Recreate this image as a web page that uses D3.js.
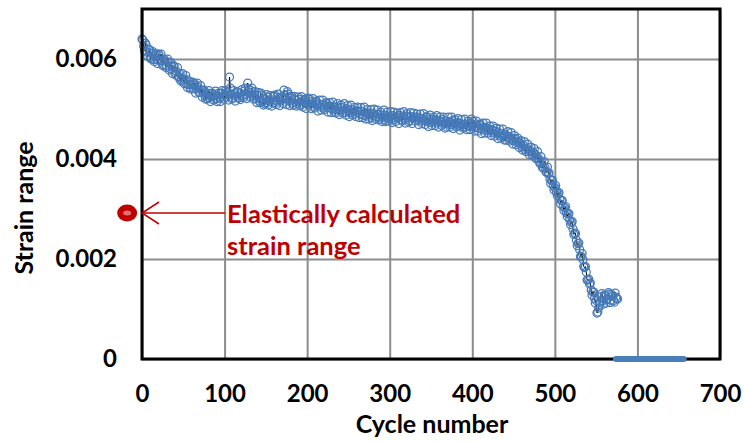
<!DOCTYPE html>
<html>
<head>
<meta charset="utf-8">
<script src="https://cdn.jsdelivr.net/npm/d3@7"></script>
<style>
  body { margin: 0; background: #fff; }
  svg { display: block; }
  .tick text { font-family: Lato, "Open Sans", sans-serif; font-weight: 700; font-size: 24px; fill: #000; }
  .axis-label { font-family: Lato, "Open Sans", sans-serif; font-weight: 700; font-size: 25px; fill: #000; }
  .note { font-family: Lato, "Open Sans", sans-serif; font-weight: 700; font-size: 25.5px; fill: #c00000; }
</style>
</head>
<body>
<svg id="chart"></svg>
<script>
const width = 743;
const height = 442;

// even cycles of the measured points
const cyclesEven = [
  0, 2, 4, 6, 8, 10,
  12, 14, 16, 18, 20, 22, 24, 26, 28,
  30, 32, 34, 36, 38, 40, 42, 44,
  46, 48, 50, 52, 54, 56, 58, 60,
  62, 64, 66, 68, 70, 72, 74, 76,
  78, 80, 82, 84, 86, 88, 90, 92, 94, 96, 98, 100,
  102, 104, 106, 108, 110, 112, 114, 116,
  118, 120, 122, 124, 126, 128, 130,
  132, 134, 136, 138, 140, 142, 144, 146,
  148, 150, 152, 154, 156, 158, 160, 162, 164, 166, 168, 170,
  172, 174, 176, 178, 180, 182, 184,
  186, 188, 190, 192, 194, 196, 198, 200,
  202, 204, 206, 208, 210, 212, 214, 216, 218, 220, 222, 224, 226, 228, 230, 232,
  234, 236, 238, 240, 242, 244, 246, 248, 250, 252, 254, 256, 258, 260, 262,
  264, 266, 268, 270, 272, 274, 276, 278, 280, 282, 284, 286, 288, 290, 292, 294, 296, 298, 300,
  302, 304, 306, 308, 310, 312, 314, 316, 318, 320, 322, 324, 326, 328, 330,
  332, 334, 336, 338, 340, 342, 344, 346, 348, 350, 352, 354, 356, 358, 360, 362, 364, 366,
  368, 370, 372, 374, 376, 378, 380, 382, 384, 386, 388, 390, 392, 394, 396, 398, 400,
  402, 404, 406, 408, 410, 412, 414, 416, 418, 420, 422,
  424, 426, 428, 430, 432, 434, 436, 438,
  440, 442, 444, 446, 448, 450, 452, 454, 456,
  458, 460, 462, 464, 466, 468, 470, 472, 474,
  476, 478, 480, 482, 484, 486, 488, 490,
  492, 494, 496, 498, 500,
  502, 504, 506, 508, 510, 512, 514,
  516, 518, 520, 522, 524, 526, 528,
  530, 532, 534, 536, 538, 540,
  542, 544, 546, 548, 550, 552,
  554, 556, 558, 560, 562, 564, 566, 568, 570, 572, 574, 576
];

const strainEven = [
  0.00640, 0.00626, 0.00632, 0.00614, 0.00619, 0.00603,
  0.00611, 0.00599, 0.00607, 0.00599, 0.00610, 0.00597, 0.00598, 0.00589, 0.00596,
  0.00587, 0.00594, 0.00581, 0.00585, 0.00587, 0.00573, 0.00575, 0.00565,
  0.00570, 0.00558, 0.00561, 0.00553, 0.00559, 0.00549, 0.00543, 0.00549,
  0.00541, 0.00548, 0.00540, 0.00544, 0.00534, 0.00538, 0.00537, 0.00527,
  0.00532, 0.00523, 0.00531, 0.00524, 0.00519, 0.00529, 0.00521, 0.00526, 0.00521, 0.00532, 0.00525, 0.00529,
  0.00524, 0.00533, 0.00564, 0.00530, 0.00522, 0.00531, 0.00526, 0.00534,
  0.00523, 0.00531, 0.00527, 0.00536, 0.00529, 0.00552, 0.00533,
  0.00537, 0.00526, 0.00530, 0.00521, 0.00527, 0.00516, 0.00532, 0.00514,
  0.00521, 0.00513, 0.00524, 0.00516, 0.00519, 0.00512, 0.00526, 0.00517, 0.00514, 0.00522, 0.00516, 0.00520,
  0.00538, 0.00521, 0.00535, 0.00516, 0.00523, 0.00512, 0.00519,
  0.00518, 0.00511, 0.00520, 0.00514, 0.00509, 0.00517, 0.00513, 0.00510,
  0.00508, 0.00515, 0.00510, 0.00505, 0.00513, 0.00507, 0.00511, 0.00504, 0.00509, 0.00502, 0.00507, 0.00511, 0.00503, 0.00506, 0.00500, 0.00504,
  0.00499, 0.00505, 0.00501, 0.00496, 0.00503, 0.00498, 0.00493, 0.00501, 0.00497, 0.00492, 0.00499, 0.00495, 0.00490, 0.00497, 0.00494,
  0.00490, 0.00496, 0.00488, 0.00493, 0.00486, 0.00492, 0.00489, 0.00483, 0.00491, 0.00487, 0.00485, 0.00490, 0.00482, 0.00488, 0.00484, 0.00479, 0.00487, 0.00483, 0.00485,
  0.00481, 0.00487, 0.00479, 0.00485, 0.00482, 0.00488, 0.00478, 0.00484, 0.00480, 0.00486, 0.00483, 0.00477, 0.00485, 0.00481, 0.00483,
  0.00484, 0.00478, 0.00482, 0.00476, 0.00481, 0.00477, 0.00484, 0.00475, 0.00479, 0.00473, 0.00480, 0.00476, 0.00478, 0.00472, 0.00477, 0.00474, 0.00479, 0.00471,
  0.00476, 0.00470, 0.00474, 0.00469, 0.00477, 0.00471, 0.00468, 0.00473, 0.00466, 0.00471, 0.00469, 0.00464, 0.00470, 0.00467, 0.00465, 0.00471, 0.00466,
  0.00469, 0.00463, 0.00466, 0.00461, 0.00468, 0.00460, 0.00464, 0.00457, 0.00462, 0.00459, 0.00456,
  0.00459, 0.00452, 0.00456, 0.00450, 0.00453, 0.00447, 0.00451, 0.00445,
  0.00449, 0.00443, 0.00446, 0.00440, 0.00442, 0.00437, 0.00440, 0.00433, 0.00435,
  0.00432, 0.00425, 0.00427, 0.00419, 0.00422, 0.00415, 0.00418, 0.00411, 0.00413,
  0.00410, 0.00401, 0.00402, 0.00391, 0.00393, 0.00382, 0.00383, 0.00373,
  0.00371, 0.00360, 0.00357, 0.00347, 0.00343,
  0.00334, 0.00331, 0.00320, 0.00317, 0.00305, 0.00302, 0.00292,
  0.00290, 0.00278, 0.00273, 0.00260, 0.00252, 0.00238, 0.00231,
  0.00219, 0.00205, 0.00199, 0.00183, 0.00174, 0.00158,
  0.00150, 0.00138, 0.00134, 0.00121, 0.00117, 0.00094,
  0.00108, 0.00125, 0.00116, 0.00128, 0.00112, 0.00121, 0.00130, 0.00118, 0.00126, 0.00114, 0.00124, 0.00120
];

// odd cycles of the measured points
const cyclesOdd = [
  1, 3, 5, 7, 9, 11,
  13, 15, 17, 19, 21, 23, 25, 27, 29,
  31, 33, 35, 37, 39, 41, 43, 45,
  47, 49, 51, 53, 55, 57, 59, 61,
  63, 65, 67, 69, 71, 73, 75, 77,
  79, 81, 83, 85, 87, 89, 91, 93, 95, 97, 99, 101,
  103, 105, 107, 109, 111, 113, 115, 117,
  119, 121, 123, 125, 127, 129, 131,
  133, 135, 137, 139, 141, 143, 145, 147,
  149, 151, 153, 155, 157, 159, 161, 163, 165, 167, 169, 171,
  173, 175, 177, 179, 181, 183, 185,
  187, 189, 191, 193, 195, 197, 199, 201,
  203, 205, 207, 209, 211, 213, 215, 217, 219, 221, 223, 225, 227, 229, 231, 233,
  235, 237, 239, 241, 243, 245, 247, 249, 251, 253, 255, 257, 259, 261, 263,
  265, 267, 269, 271, 273, 275, 277, 279, 281, 283, 285, 287, 289, 291, 293, 295, 297, 299, 301,
  303, 305, 307, 309, 311, 313, 315, 317, 319, 321, 323, 325, 327, 329, 331,
  333, 335, 337, 339, 341, 343, 345, 347, 349, 351, 353, 355, 357, 359, 361, 363, 365, 367,
  369, 371, 373, 375, 377, 379, 381, 383, 385, 387, 389, 391, 393, 395, 397, 399,
  401, 403, 405, 407, 409, 411, 413, 415, 417, 419, 421, 423,
  425, 427, 429, 431, 433, 435, 437, 439,
  441, 443, 445, 447, 449, 451, 453, 455, 457,
  459, 461, 463, 465, 467, 469, 471, 473, 475,
  477, 479, 481, 483, 485, 487, 489, 491,
  493, 495, 497, 499, 501,
  503, 505, 507, 509, 511, 513, 515,
  517, 519, 521, 523, 525, 527, 529,
  531, 533, 535, 537, 539, 541,
  543, 545, 547, 549, 551, 553,
  555, 557, 559, 561, 563, 565, 567, 569, 571, 573, 575
];

const strainOdd = [
  0.00638, 0.00617, 0.00628, 0.00605, 0.00619, 0.00600,
  0.00615, 0.00595, 0.00611, 0.00591, 0.00607, 0.00610, 0.00587, 0.00599, 0.00583,
  0.00600, 0.00578, 0.00593, 0.00571, 0.00585, 0.00568, 0.00583, 0.00562,
  0.00556, 0.00571, 0.00551, 0.00567, 0.00543, 0.00556, 0.00540, 0.00554,
  0.00552, 0.00532, 0.00552, 0.00533, 0.00547, 0.00524, 0.00538, 0.00520,
  0.00520, 0.00537, 0.00515, 0.00532, 0.00518, 0.00536, 0.00515, 0.00532, 0.00515, 0.00537, 0.00520, 0.00537,
  0.00534, 0.00518, 0.00542, 0.00520, 0.00537, 0.00516, 0.00535, 0.00522,
  0.00519, 0.00539, 0.00523, 0.00542, 0.00521, 0.00540, 0.00524,
  0.00542, 0.00520, 0.00535, 0.00513, 0.00533, 0.00513, 0.00528, 0.00508,
  0.00510, 0.00529, 0.00508, 0.00527, 0.00506, 0.00525, 0.00528, 0.00509, 0.00530, 0.00507, 0.00524, 0.00511,
  0.00528, 0.00509, 0.00530, 0.00507, 0.00526, 0.00508, 0.00525,
  0.00506, 0.00524, 0.00507, 0.00525, 0.00504, 0.00520, 0.00501, 0.00522,
  0.00520, 0.00501, 0.00521, 0.00502, 0.00516, 0.00496, 0.00518, 0.00498, 0.00518, 0.00499, 0.00513, 0.00494, 0.00513, 0.00493, 0.00514, 0.00494,
  0.00492, 0.00511, 0.00489, 0.00508, 0.00492, 0.00511, 0.00488, 0.00507, 0.00485, 0.00508, 0.00488, 0.00503, 0.00485, 0.00504, 0.00483,
  0.00503, 0.00483, 0.00504, 0.00480, 0.00499, 0.00480, 0.00499, 0.00477, 0.00500, 0.00480, 0.00498, 0.00478, 0.00494, 0.00475, 0.00498, 0.00475, 0.00494, 0.00476, 0.00495,
  0.00473, 0.00494, 0.00475, 0.00492, 0.00471, 0.00493, 0.00476, 0.00495, 0.00472, 0.00491, 0.00474, 0.00493, 0.00471, 0.00492, 0.00476,
  0.00490, 0.00469, 0.00490, 0.00471, 0.00491, 0.00469, 0.00485, 0.00465, 0.00488, 0.00467, 0.00484, 0.00467, 0.00487, 0.00464, 0.00484, 0.00467, 0.00484, 0.00462,
  0.00464, 0.00484, 0.00464, 0.00484, 0.00461, 0.00479, 0.00464, 0.00481, 0.00458, 0.00479, 0.00462, 0.00480, 0.00459, 0.00476, 0.00459, 0.00480,
  0.00476, 0.00456, 0.00476, 0.00456, 0.00470, 0.00451, 0.00472, 0.00452, 0.00472, 0.00452, 0.00466, 0.00447,
  0.00466, 0.00446, 0.00462, 0.00441, 0.00460, 0.00442, 0.00460, 0.00438,
  0.00438, 0.00455, 0.00436, 0.00453, 0.00430, 0.00447, 0.00429, 0.00442, 0.00423,
  0.00437, 0.00418, 0.00435, 0.00415, 0.00430, 0.00409, 0.00424, 0.00407, 0.00421,
  0.00401, 0.00415, 0.00395, 0.00405, 0.00383, 0.00395, 0.00375, 0.00384,
  0.00372, 0.00351, 0.00358, 0.00338, 0.00347,
  0.00327, 0.00333, 0.00310, 0.00317, 0.00297, 0.00305, 0.00285,
  0.00291, 0.00269, 0.00275, 0.00249, 0.00251, 0.00227, 0.00232,
  0.00205, 0.00211, 0.00185, 0.00185, 0.00158, 0.00160,
  0.00152, 0.00128, 0.00134, 0.00112, 0.00092, 0.00102,
  0.00114, 0.00131, 0.00110, 0.00127, 0.00119, 0.00133, 0.00113, 0.00129, 0.00117, 0.00132, 0.00121
];

// the short blue series lying on the x axis
const baseCycles = [574, 656];
const baseStrain = [0, 0];

// elastically calculated value, drawn left of the axis
const elasticCycle = [-18];
const elasticStrain = [0.00292];

const xTicks = [0, 100, 200, 300, 400, 500, 600, 700];
const yTicks = [0, 0.002, 0.004, 0.006];
const noteLines = ["Elastically calculated", "strain range"];

if (cyclesEven.length !== strainEven.length || cyclesOdd.length !== strainOdd.length) {
  throw new Error("length mismatch");
}

const svg = d3.select("#chart")
  .attr("width", width)
  .attr("height", height);

const margin = { top: 9, right: 23, bottom: 83, left: 142 };
const innerWidth = width - margin.left - margin.right;
const innerHeight = height - margin.top - margin.bottom;

const xScale = d3.scaleLinear().domain([0, 700]).range([0, innerWidth]);
const yScale = d3.scaleLinear().domain([0, 0.007]).range([innerHeight, 0]);

const g = svg.append("g").attr("transform", `translate(${margin.left},${margin.top})`);

// x axis with grid lines
const xAxisG = g.append("g")
  .attr("transform", `translate(0,${innerHeight})`)
  .call(d3.axisBottom(xScale).tickValues(xTicks).tickSize(-innerHeight).tickPadding(26).tickFormat(d3.format("d")));
xAxisG.select(".domain").remove();
xAxisG.selectAll(".tick line").attr("stroke", "#8c8c8c").attr("stroke-width", 2);

// y axis with grid lines
const yAxisG = g.append("g")
  .call(d3.axisLeft(yScale).tickValues(yTicks).tickSize(-innerWidth).tickPadding(25)
    .tickFormat(d => d === 0 ? "0" : d3.format(".3f")(d)));
yAxisG.select(".domain").remove();
yAxisG.selectAll(".tick line").attr("stroke", "#8c8c8c").attr("stroke-width", 2);

// merge both halves in cycle order
const points = cyclesEven.map((c, i) => ({ cycle: c, strain: strainEven[i] }))
  .concat(cyclesOdd.map((c, i) => ({ cycle: c, strain: strainOdd[i] })))
  .sort((a, b) => a.cycle - b.cycle);

// thin black line under open blue circle markers
g.append("path")
  .datum(points)
  .attr("fill", "none")
  .attr("stroke", "#000")
  .attr("stroke-width", 1)
  .attr("d", d3.line().x(d => xScale(d.cycle)).y(d => yScale(d.strain)));

g.selectAll("circle.pt")
  .data(points)
  .enter()
  .append("circle")
  .attr("class", "pt")
  .attr("cx", d => xScale(d.cycle))
  .attr("cy", d => yScale(d.strain))
  .attr("r", 4)
  .attr("fill", "none")
  .attr("stroke", "#467ab9")
  .attr("stroke-width", 1.25);

// plot frame
g.append("rect")
  .attr("width", innerWidth)
  .attr("height", innerHeight)
  .attr("fill", "none")
  .attr("stroke", "#000")
  .attr("stroke-width", 3);

// blue segment on the x axis
const basePoints = baseCycles.map((c, i) => ({ cycle: c, strain: baseStrain[i] }));
g.append("path")
  .datum(basePoints)
  .attr("fill", "none")
  .attr("stroke", "#4a7ebb")
  .attr("stroke-width", 6)
  .attr("stroke-linecap", "round")
  .attr("d", d3.line().x(d => xScale(d.cycle)).y(d => yScale(d.strain)));

// elastic value marker
const ex = xScale(elasticCycle[0]);
const ey = yScale(elasticStrain[0]);
g.append("ellipse")
  .attr("cx", ex).attr("cy", ey)
  .attr("rx", 10).attr("ry", 8.5)
  .attr("fill", "#c00000");
g.append("ellipse")
  .attr("cx", ex).attr("cy", ey)
  .attr("rx", 4).attr("ry", 2.5)
  .attr("fill", "#e07070");

// arrow from the note to the y axis
const noteX = 84;
g.append("line")
  .attr("x1", 1).attr("y1", ey)
  .attr("x2", noteX - 1).attr("y2", ey)
  .attr("stroke", "#c00000").attr("stroke-width", 1.5);
g.append("path")
  .attr("d", `M17,${ey - 11} L0,${ey} L17,${ey + 11}`)
  .attr("fill", "none")
  .attr("stroke", "#c00000").attr("stroke-width", 1.5);

g.selectAll("text.note")
  .data(noteLines)
  .enter()
  .append("text")
  .attr("class", "note")
  .attr("x", noteX + 1)
  .attr("y", (d, i) => ey + 10 + i * 32)
  .text(d => d);

// axis titles
g.append("text")
  .attr("class", "axis-label")
  .attr("x", innerWidth / 2 + 1)
  .attr("y", innerHeight + 74)
  .attr("text-anchor", "middle")
  .text("Cycle number");

g.append("text")
  .attr("class", "axis-label")
  .attr("transform", "rotate(-90)")
  .attr("x", -(208 - margin.top))
  .attr("y", -109)
  .attr("text-anchor", "middle")
  .text("Strain range");
</script>
</body>
</html>
